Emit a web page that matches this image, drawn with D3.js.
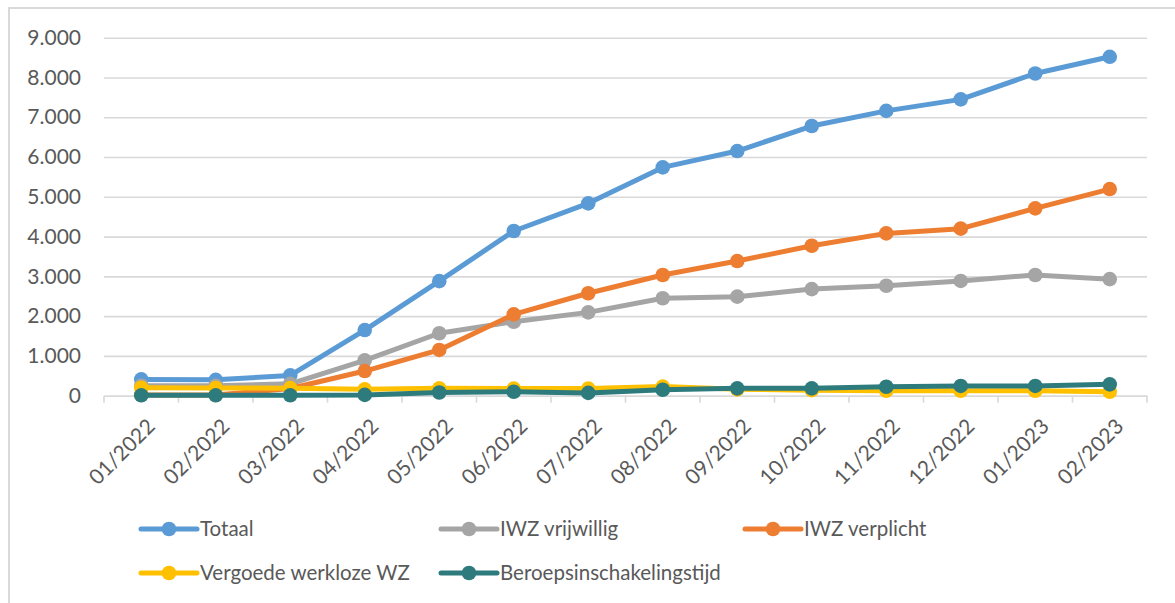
<!DOCTYPE html>
<html>
<head>
<meta charset="utf-8">
<script src="https://cdn.jsdelivr.net/npm/d3@7/dist/d3.min.js"></script>
<style>
  html, body { margin: 0; padding: 0; background: #ffffff; }
  svg { display: block; }
  text { font-family: Lato, "Open Sans", sans-serif; fill: #595959; }
</style>
</head>
<body>
<svg id="chart" width="1175" height="603"></svg>
<script>
// ---- data ----
const categories = ["01/2022","02/2022","03/2022","04/2022","05/2022","06/2022","07/2022",
                    "08/2022","09/2022","10/2022","11/2022","12/2022","01/2023","02/2023"];
const totaal      = [410, 400, 510, 1650, 2880, 4140, 4835, 5740, 6150, 6780, 7160, 7450, 8100, 8520];
const vrijwillig  = [250, 250, 300, 890, 1570, 1860, 2095, 2450, 2490, 2680, 2765, 2885, 3035, 2930];
const verplicht   = [20, 20, 180, 620, 1150, 2045, 2575, 3035, 3385, 3770, 4080, 4200, 4710, 5195];
const vergoede    = [200, 195, 190, 160, 185, 180, 180, 230, 160, 140, 125, 125, 125, 100];
const beroeps     = [10, 10, 10, 20, 80, 100, 70, 150, 185, 185, 225, 245, 245, 285];
const seriesNames = ["Totaal", "IWZ vrijwillig", "IWZ verplicht", "Vergoede werkloze WZ", "Beroepsinschakelingstijd"];
const yTicks = [0, 1000, 2000, 3000, 4000, 5000, 6000, 7000, 8000, 9000];

const seriesValues = [totaal, vrijwillig, verplicht, vergoede, beroeps];
const colors = ["#5B9BD5", "#A5A5A5", "#ED7D31", "#FFC000", "#2E7B7D"];

// ---- layout ----
const svg = d3.select("#chart");
const plot = { left: 104, right: 1147, top: 37.7, bottom: 395.7 };

// frame
svg.append("rect")
  .attr("x", 9).attr("y", 8).attr("width", 1200).attr("height", 700)
  .attr("fill", "none").attr("stroke", "#d9d9d9").attr("stroke-width", 2);

const x = d3.scaleBand().domain(categories).range([plot.left, plot.right]).padding(0);
const cx = d => x(d) + x.bandwidth() / 2;
const y = d3.scaleLinear().domain([0, 9000]).range([plot.bottom, plot.top]);

const nl = d3.formatLocale({ decimal: ",", thousands: ".", grouping: [3], currency: ["€", ""] });
const fmt = nl.format(",d");

// gridlines + y labels
const yAxis = d3.axisLeft(y).tickValues(yTicks).tickFormat(fmt)
  .tickSize(-(plot.right - plot.left)).tickPadding(23);
const gy = svg.append("g").attr("transform", `translate(${plot.left},0)`).call(yAxis);
gy.select(".domain").remove();
gy.selectAll(".tick line").attr("stroke", "#d9d9d9").attr("stroke-width", 1.6);
gy.selectAll(".tick text").attr("font-size", 21).attr("fill", "#595959")
  .style("font-family", "Lato, 'Open Sans', sans-serif");

// x axis ticks at category boundaries
const xAxis = d3.axisBottom(x).tickSize(0).tickPadding(0);
const gx = svg.append("g").attr("transform", `translate(0,${plot.bottom})`).call(xAxis);
gx.select(".domain").attr("stroke", "#d9d9d9").attr("stroke-width", 1.6);
const bounds = categories.map(c => x(c)).concat([plot.right]);
gx.selectAll(".bound").data(bounds).enter().append("line")
  .attr("x1", d => d).attr("x2", d => d).attr("y1", 0).attr("y2", 7)
  .attr("stroke", "#d9d9d9").attr("stroke-width", 1.6);
gx.selectAll(".tick text")
  .attr("font-size", 21).attr("fill", "#595959")
  .style("font-family", "Lato, 'Open Sans', sans-serif")
  .attr("text-anchor", "end").attr("y", 0).attr("dy", 0)
  .attr("transform", "translate(15,32) rotate(-45)");

// series
const line = d3.line().x((d, i) => cx(categories[i])).y(d => y(d));
seriesValues.forEach((vals, s) => {
  const g = svg.append("g");
  g.append("path").datum(vals)
    .attr("d", line).attr("fill", "none")
    .attr("stroke", colors[s]).attr("stroke-width", 5)
    .attr("stroke-linejoin", "round").attr("stroke-linecap", "round");
  g.selectAll("circle").data(vals).enter().append("circle")
    .attr("cx", (d, i) => cx(categories[i])).attr("cy", d => y(d))
    .attr("r", 7.3).attr("fill", colors[s]);
});

// legend
const legendPos = [
  { x: 141, y: 529 }, { x: 441, y: 529 }, { x: 745, y: 529 },
  { x: 141, y: 573 }, { x: 441, y: 573 }
];
seriesNames.forEach((name, s) => {
  const p = legendPos[s];
  const g = svg.append("g").attr("transform", `translate(${p.x},${p.y})`);
  g.append("line").attr("x1", 0).attr("x2", 56).attr("y1", 0).attr("y2", 0)
    .attr("stroke", colors[s]).attr("stroke-width", 5).attr("stroke-linecap", "round");
  g.append("circle").attr("cx", 28).attr("cy", 0).attr("r", 7.3).attr("fill", colors[s]);
  g.append("text").attr("x", 59).attr("y", 0).attr("dy", "0.35em")
    .attr("font-size", 20.5).text(name);
});
</script>
</body>
</html>
